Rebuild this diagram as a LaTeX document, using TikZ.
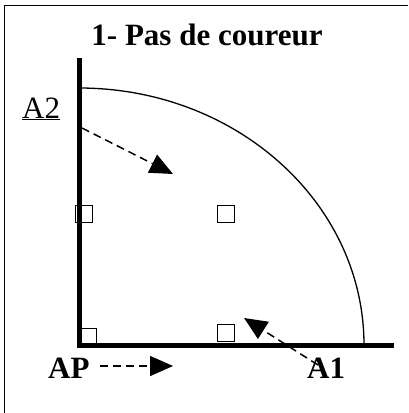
\documentclass[tikz,border=0pt]{standalone}
\usepackage{fontspec}
\setmainfont{Liberation Serif}
\usetikzlibrary{arrows.meta}
\begin{document}
\begin{tikzpicture}[x=1pt,y=-1pt,
  txt/.style={inner sep=0pt,font=\fontsize{31}{37}\selectfont},
  bold/.style={txt,font=\fontsize{31}{37}\selectfont\bfseries},
  wall/.style={line width=5pt,line join=miter},
  marker/.style={draw,line width=1.5pt,minimum size=17pt,inner sep=0pt},
  move/.style={dash pattern=on 8pt off 5pt,line width=1.5pt,
    -{Triangle[length=23pt,width=20pt]}}]
\useasboundingbox (0,0) rectangle (408,413);
% frame
\draw[line width=1.5pt] (4.5,413) -- (4.5,5.5) -- (408,5.5);
% title
\node[bold,anchor=base] (title) at (207,45) {1- Pas de coureur};
% walls
\coordinate (wtop) at (79,58);
\coordinate (corner) at (79,345);
\coordinate (wend) at (394,345);
\draw[wall] (wtop) -- (corner) -- (wend);
% arc
\coordinate (arcstart) at (364,345);
\draw[line width=1.3pt] (arcstart) arc[start angle=0,end angle=-90,x radius=285,y radius=257];
% markers
\node[marker] (m1) at (84,214) {};
\node[marker] (m2) at (226,214) {};
\node[marker,minimum size=16pt] (m3) at (88.5,336.5) {};
\node[marker] (m4) at (226,333) {};
% labels
\node[txt,anchor=base west] (A2) at (22,118) {\underline{A2}};
\node[bold,anchor=base west] (AP) at (48,378) {AP};
\node[bold,anchor=base west] (A1) at (307,378) {A1};
% arrows
\coordinate (a2s) at (82,128);
\coordinate (a2e) at (173,174);
\coordinate (aps) at (100,366);
\coordinate (ape) at (173,366);
\coordinate (a1s) at (318,365);
\coordinate (a1e) at (244,318);
\draw[move] (a2s) -- (a2e);
\draw[move] (aps) -- (ape);
\draw[move] (a1s) -- (a1e);
\end{tikzpicture}
\end{document}
